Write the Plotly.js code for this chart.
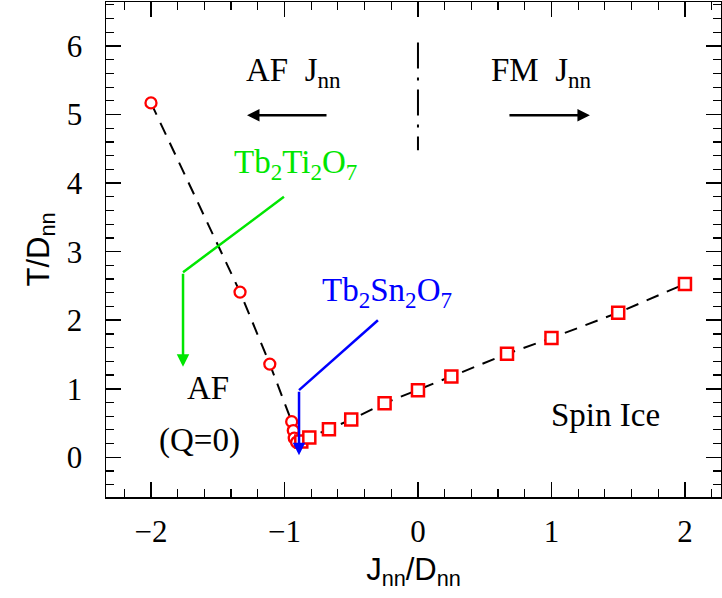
<!DOCTYPE html>
<html>
<head>
<meta charset="utf-8">
<script src="https://cdn.plot.ly/plotly-3.0.1.min.js"></script>
<style>html,body{margin:0;padding:0;background:#fff;}#chart{width:722px;height:598px;}</style>
</head>
<body>
<div id="chart"></div>
<script>
// AF branch (open circles)
const afJ = [-2.0, -1.333, -1.11, -0.946, -0.934, -0.927, -0.909];
const afT = [5.17, 2.41, 1.36, 0.52, 0.39, 0.28, 0.22];
// Spin ice branch (open squares)
const siJ = [-0.874, -0.814, -0.667, -0.5, -0.25, 0.0, 0.25, 0.667, 1.0, 1.5, 2.0];
const siT = [0.23, 0.29, 0.41, 0.55, 0.79, 0.98, 1.18, 1.51, 1.74, 2.11, 2.53];
// axis ticks
const xTicks = [-2, -1, 0, 1, 2];
const yTicks = [0, 1, 2, 3, 4, 5, 6];

const serif = 'Liberation Serif, Times New Roman, serif';
const sans = 'Liberation Sans, Arial, sans-serif';

const lineJ = afJ.concat(siJ);
const lineT = afT.concat(siT);

const traces = [
  {x: lineJ, y: lineT, mode: 'lines', line: {color: 'black', width: 2, dash: '13px,9px'}, hoverinfo: 'skip'},
  {x: afJ, y: afT, mode: 'markers', marker: {symbol: 'circle', size: 11, color: 'white', line: {color: '#ff0000', width: 2.3}}},
  {x: siJ, y: siT, mode: 'markers', marker: {symbol: 'square', size: 12, color: 'white', line: {color: '#ff0000', width: 2.5}}}
];

const green = '#00e600';
const blue = '#0000ff';
const annFont = 33;

const layout = {
  width: 722, height: 598,
  margin: {l: 106, r: 1, t: 2, b: 101},
  paper_bgcolor: 'white', plot_bgcolor: 'white',
  showlegend: false,
  xaxis: {
    range: [-2.337, 2.270], tickvals: xTicks, ticks: 'inside', ticklen: 15, tickwidth: 1.5, tickcolor: 'black',
    minor: {dtick: 0.2, ticks: 'inside', ticklen: 8, tickwidth: 1.2, tickcolor: 'black'},
    showline: true, linecolor: 'black', linewidth: 1.5, mirror: 'allticks',
    showgrid: false, zeroline: false,
    tickfont: {family: serif, size: 31, color: 'black'},
    ticklabelstandoff: 6,
    title: {text: 'J<sub>nn</sub>/D<sub>nn</sub>', font: {family: sans, size: 31, color: 'black'}, standoff: 10}
  },
  yaxis: {
    range: [-0.579, 6.642], tickvals: yTicks, ticks: 'inside', ticklen: 15, tickwidth: 1.5, tickcolor: 'black',
    minor: {dtick: 0.2, ticks: 'inside', ticklen: 8, tickwidth: 1.2, tickcolor: 'black'},
    showline: true, linecolor: 'black', linewidth: 1.5, mirror: 'allticks',
    showgrid: false, zeroline: false,
    tickfont: {family: serif, size: 31, color: 'black'},
    ticklabelstandoff: 16,
    title: {text: 'T/D<sub>nn</sub>', font: {family: sans, size: 31, color: 'black'}, standoff: 8}
  },
  shapes: [
    {type: 'line', xref: 'x', yref: 'y', x0: 0, x1: 0, y0: 6.05, y1: 4.48, line: {color: 'black', width: 2, dash: '26px,9px,3px,9px'}},
    {type: 'line', xref: 'x', yref: 'y', x0: -1.004, y0: 3.80, x1: -1.76, y1: 2.70, line: {color: green, width: 2.5}},
    {type: 'line', xref: 'x', yref: 'y', x0: -0.30, y0: 2.00, x1: -0.891, y1: 0.98, line: {color: blue, width: 2.5}}
  ],
  annotations: [
    {xref: 'x', yref: 'y', x: -0.932, y: 5.62, text: 'AF&nbsp; J<sub>nn</sub>', showarrow: false, font: {family: serif, size: annFont, color: 'black'}},
    {xref: 'x', yref: 'y', x: 0.929, y: 5.62, text: 'FM&nbsp; J<sub>nn</sub>', showarrow: false, font: {family: serif, size: annFont, color: 'black'}},
    {xref: 'x', yref: 'y', axref: 'x', ayref: 'y', x: -1.281, y: 4.99, ax: -0.674, ay: 4.99, text: '', showarrow: true, arrowhead: 2, arrowsize: 1, arrowwidth: 2.5, arrowcolor: 'black', standoff: 0},
    {xref: 'x', yref: 'y', axref: 'x', ayref: 'y', x: 1.288, y: 4.99, ax: 0.674, ay: 4.99, text: '', showarrow: true, arrowhead: 2, arrowsize: 1, arrowwidth: 2.5, arrowcolor: 'black', standoff: 0},
    {xref: 'x', yref: 'y', x: -0.92, y: 4.27, text: 'Tb<sub>2</sub>Ti<sub>2</sub>O<sub>7</sub>', showarrow: false, font: {family: serif, size: annFont, color: green}},
    {xref: 'x', yref: 'y', axref: 'x', ayref: 'y', x: -1.76, y: 1.32, ax: -1.76, ay: 2.70, text: '', showarrow: true, arrowhead: 2, arrowsize: 1, arrowwidth: 2.5, arrowcolor: green, standoff: 0},
    {xref: 'x', yref: 'y', x: -0.232, y: 2.41, text: 'Tb<sub>2</sub>Sn<sub>2</sub>O<sub>7</sub>', showarrow: false, font: {family: serif, size: annFont, color: blue}},
    {xref: 'x', yref: 'y', axref: 'x', ayref: 'y', x: -0.891, y: 0.03, ax: -0.891, ay: 0.98, text: '', showarrow: true, arrowhead: 2, arrowsize: 1, arrowwidth: 2.5, arrowcolor: blue, standoff: 0},
    {xref: 'x', yref: 'y', x: -1.573, y: 1.01, text: 'AF', showarrow: false, font: {family: serif, size: annFont, color: 'black'}},
    {xref: 'x', yref: 'y', x: -1.640, y: 0.25, text: '(Q=0)', showarrow: false, font: {family: serif, size: annFont, color: 'black'}},
    {xref: 'x', yref: 'y', x: 1.408, y: 0.62, text: 'Spin Ice', showarrow: false, font: {family: serif, size: annFont, color: 'black'}}
  ]
};

Plotly.newPlot('chart', traces, layout, {staticPlot: true, displayModeBar: false});
</script>
</body>
</html>
